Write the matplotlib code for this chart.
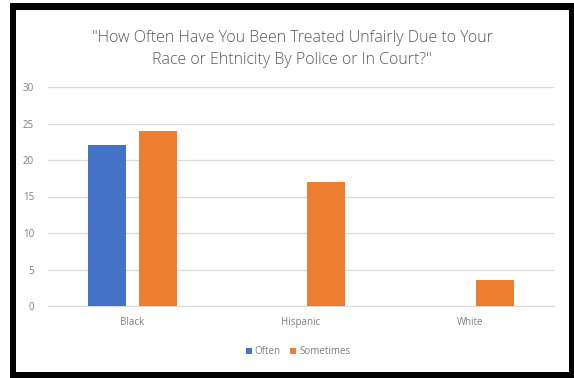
import matplotlib
matplotlib.use("Agg")
import matplotlib.pyplot as plt
from matplotlib.patches import Rectangle
import numpy as np

categories = ["Black", "Hispanic", "White"]
often = [22, 0, 0]
sometimes = [24, 17, 3.5]
yticks = [0, 5, 10, 15, 20, 25, 30]

plt.rcParams['font.family'] = ['Open Sans', 'DejaVu Sans']

W, H = 574, 378
fig = plt.figure(figsize=(W/100, H/100), dpi=100)
fig.patch.set_facecolor('white')
ax = fig.add_axes([48/W, 1-306/H, (554-48)/W, (306-87)/H])

x = np.arange(len(categories))
w = 0.226
off = 0.150
ax.bar(x - off, often, width=w, color='#4472C4', label='Often', zorder=3)
ax.bar(x + off, sometimes, width=w, color='#ED7D31', label='Sometimes', zorder=3)

ax.set_xlim(-0.5, 2.5)
ax.set_ylim(0, 30)
ax.set_yticks(yticks)
ax.set_yticklabels([str(t) for t in yticks])
ax.set_xticks(x)
ax.set_xticklabels(categories)
ax.yaxis.grid(True, color='#D9D9D9', linewidth=0.9, zorder=0)
for s in ['top', 'right', 'left']:
    ax.spines[s].set_visible(False)
ax.spines['bottom'].set_color('#D9D9D9')
ax.tick_params(axis='both', length=0, colors='#7F7F7F', labelsize=7)
ax.tick_params(axis='x', pad=8)
ax.tick_params(axis='y', pad=10)

fig.text(292/W, 1-49/H,
         '"How Often Have You Been Treated Unfairly Due to Your\nRace or Ehtnicity By Police or In Court?"',
         ha='center', va='center', fontsize=11.5, color='#595959', linespacing=1.45, fontweight='light')

leg = fig.legend(loc='center', bbox_to_anchor=(298/W, 1-352/H), ncol=2, frameon=False,
                 fontsize=7, handlelength=0.6, handleheight=0.6, handletextpad=0.3, columnspacing=1.0)
for t in leg.get_texts():
    t.set_color('#7F7F7F')

# black frame (left, top, right, bottom) in pixel coordinates
def frame_rect(x0, y0, x1, y1):
    fig.patches.append(Rectangle((x0/W, 1-y1/H), (x1-x0)/W, (y1-y0)/H,
                                 transform=fig.transFigure, facecolor='black',
                                 edgecolor='none', zorder=10))

frame_rect(10, 3, 16, 378)
frame_rect(10, 3, 574, 10)
frame_rect(569, 3, 574, 378)
frame_rect(10, 372, 574, 378)

fig.savefig('out.png', dpi=100, facecolor='white')
